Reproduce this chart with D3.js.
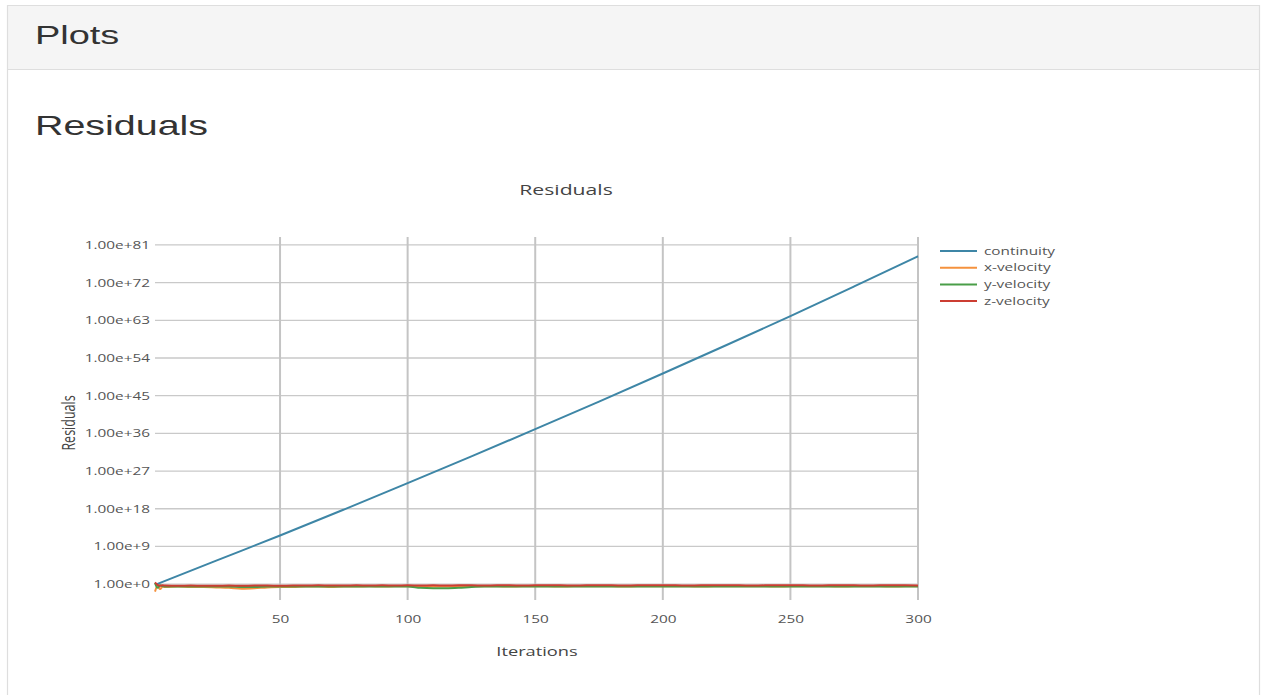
<!DOCTYPE html>
<html>
<head>
<meta charset="utf-8">
<script src="https://cdn.jsdelivr.net/npm/d3@7"></script>
<style>
  html, body { margin: 0; padding: 0; background: #fff; }
  svg { display: block; }
</style>
</head>
<body>
<svg id="page" width="1264" height="695"></svg>
<script>
// ---- data -------------------------------------------------------------
// Residual history, stored as log10 of the residual.
const continuityIters = [1, 25, 50, 75, 100, 125, 150, 175, 200, 225, 250, 275, 300];
const continuityLog10 = [-0.2, 5.6, 11.6, 17.8, 24.1, 30.5, 37.0, 43.6, 50.3, 57.1, 64.0, 71.1, 78.3];

const velocityIters = [1, 2, 3, 4,
  5, 10, 15, 20, 25, 30, 35, 40, 45, 50, 55, 60, 65, 70, 75, 80, 85, 90, 95, 100,
  105, 110, 115, 120, 125, 130, 135, 140, 145, 150, 155, 160, 165, 170, 175, 180, 185, 190, 195, 200,
  205, 210, 215, 220, 225, 230, 235, 240, 245, 250, 255, 260, 265, 270, 275, 280, 285, 290, 295, 300];

const xVelocityLog10 = [-1.8, -0.4, -1.2, -0.6,
  -0.7, -0.6, -0.7, -0.7, -0.8, -0.9, -1.1, -1.0, -0.8, -0.7, -0.7, -0.6, -0.6, -0.7, -0.6, -0.6, -0.5, -0.6, -0.5, -0.5,
  -0.6, -0.6, -0.6, -0.5, -0.5, -0.5, -0.5, -0.6, -0.5, -0.5, -0.5, -0.6, -0.5, -0.5, -0.5, -0.5, -0.6, -0.5, -0.5, -0.5,
  -0.5, -0.5, -0.6, -0.5, -0.5, -0.5, -0.5, -0.5, -0.6, -0.5, -0.5, -0.5, -0.5, -0.6, -0.5, -0.5, -0.5, -0.6, -0.5, -0.5];

const yVelocityLog10 = [0.3, -0.9, -0.3, -0.5,
  -0.6, -0.6, -0.6, -0.6, -0.6, -0.6, -0.7, -0.7, -0.6, -0.6, -0.6, -0.6, -0.6, -0.6, -0.6, -0.6, -0.6, -0.6, -0.6, -0.6,
  -0.9, -1.0, -1.0, -0.9, -0.7, -0.6, -0.6, -0.6, -0.6, -0.6, -0.6, -0.6, -0.6, -0.6, -0.6, -0.6, -0.6, -0.6, -0.6, -0.6,
  -0.6, -0.6, -0.6, -0.6, -0.6, -0.6, -0.6, -0.6, -0.6, -0.6, -0.6, -0.6, -0.6, -0.6, -0.6, -0.6, -0.6, -0.6, -0.6, -0.6];

const zVelocityLog10 = [0.4, -0.2, -0.4, -0.3,
  -0.35, -0.4, -0.35, -0.4, -0.4, -0.35, -0.4, -0.35, -0.35, -0.4, -0.35, -0.35, -0.3, -0.35, -0.35, -0.3, -0.35, -0.3, -0.35, -0.3,
  -0.35, -0.3, -0.35, -0.3, -0.3, -0.35, -0.3, -0.3, -0.35, -0.3, -0.3, -0.3, -0.35, -0.3, -0.3, -0.3, -0.35, -0.3, -0.3, -0.3,
  -0.3, -0.35, -0.3, -0.3, -0.3, -0.3, -0.35, -0.3, -0.3, -0.3, -0.3, -0.35, -0.3, -0.3, -0.3, -0.35, -0.3, -0.3, -0.3, -0.35];

const seriesNames  = ["continuity", "x-velocity", "y-velocity", "z-velocity"];
const seriesColors = ["#3e86a6", "#f5923e", "#4a9e48", "#cc3d32"];

const xTickValues = [50, 100, 150, 200, 250, 300];
const yTickExponents = [0, 9, 18, 27, 36, 45, 54, 63, 72, 81];

// ---- layout -----------------------------------------------------------
const SX = 1.46;                       // horizontal glyph stretch of the page
const plot = { left: 155, right: 918, top: 237, bottom: 600 };
const tickFont = "'Open Sans', sans-serif";
const headFont = "'Liberation Sans', Arial, Helvetica, sans-serif";

const svg = d3.select("#page");

// Panel frame with its grey heading strip
svg.append("rect").attr("x", 7.5).attr("y", 5.5).attr("width", 1252).attr("height", 64)
  .attr("fill", "#f5f5f5");
svg.append("path")
  .attr("d", "M7.5,700 V5.5 H1259.5 V700 M7.5,69.5 H1259.5")
  .attr("fill", "none").attr("stroke", "#dedede").attr("stroke-width", 1.2);

function stretchedText(x, y, str, opt) {
  return svg.append("text")
    .attr("transform", `translate(${x},${y}) scale(${SX},1)` + (opt.rotate ? ` rotate(${opt.rotate})` : ""))
    .attr("text-anchor", opt.anchor || "start")
    .attr("font-family", opt.family)
    .attr("font-size", opt.size)
    .attr("fill", opt.color)
    .attr("dy", opt.dy || 0)
    .text(str);
}

stretchedText(35, 44, "Plots", { family: headFont, size: 26, color: "#333" });
stretchedText(35, 134.5, "Residuals", { family: headFont, size: 27, color: "#333" });

// ---- scales -----------------------------------------------------------
const x = d3.scaleLinear().domain([1, 300]).range([plot.left, plot.right]);
const y = d3.scaleLog().domain([Math.pow(10, -3.8), Math.pow(10, 82.9)]).range([plot.bottom, plot.top]);
const yTickValues = yTickExponents.map(e => Math.pow(10, e));

// Grid
const grid = svg.append("g");
grid.selectAll("line.h").data(yTickValues).join("line")
  .attr("x1", plot.left).attr("x2", plot.right)
  .attr("y1", d => y(d)).attr("y2", d => y(d))
  .attr("stroke", "#c9c9c9").attr("stroke-width", 1.3);
grid.selectAll("line.v").data(xTickValues).join("line")
  .attr("x1", d => x(d)).attr("x2", d => x(d))
  .attr("y1", plot.top).attr("y2", plot.bottom)
  .attr("stroke", "#c4c4c4").attr("stroke-width", 2);

// Axes
const xAxis = d3.axisBottom(x).tickValues(xTickValues).tickSize(0).tickPadding(16).tickFormat(d3.format("d"));
const yAxis = d3.axisLeft(y).tickValues(yTickValues).tickSize(0).tickPadding(5).tickFormat(d3.format(".2e"));

const gx = svg.append("g").attr("transform", `translate(0,${plot.bottom})`).call(xAxis);
const gy = svg.append("g").attr("transform", `translate(${plot.left},0)`).call(yAxis);
[gx, gy].forEach(g => {
  g.select(".domain").remove();
  g.selectAll("text")
    .attr("font-family", tickFont).attr("font-size", 10.5).attr("fill", "#555")
    .attr("x", function () { return (+d3.select(this).attr("x") || 0) / SX; })
    .attr("transform", `scale(${SX},1)`);
});

// Titles
stretchedText(566, 195, "Residuals", { family: tickFont, size: 14.5, color: "#444", anchor: "middle" });
stretchedText(537, 656, "Iterations", { family: tickFont, size: 12.5, color: "#444", anchor: "middle" });
stretchedText(75, 423, "Residuals", { family: tickFont, size: 12.5, color: "#444", anchor: "middle", rotate: -90 });

// ---- series -----------------------------------------------------------
const series = [
  { iters: continuityIters, vals: continuityLog10 },
  { iters: velocityIters, vals: xVelocityLog10 },
  { iters: velocityIters, vals: yVelocityLog10 },
  { iters: velocityIters, vals: zVelocityLog10 }
];

const line = d3.line().x(d => x(d[0])).y(d => y(d[1])).curve(d3.curveMonotoneX);
const lines = svg.append("g");
series.forEach((s, i) => {
  const pts = s.iters.map((it, k) => [it, Math.pow(10, s.vals[k])]);
  lines.append("path").datum(pts)
    .attr("d", line)
    .attr("fill", "none")
    .attr("stroke", seriesColors[i])
    .attr("stroke-width", 2)
    .attr("stroke-linejoin", "round");
});

// ---- legend -----------------------------------------------------------
const legendTop = 251, legendStep = 16.7;
seriesNames.forEach((name, i) => {
  const ly = legendTop + i * legendStep;
  svg.append("line")
    .attr("x1", 940).attr("x2", 977).attr("y1", ly).attr("y2", ly)
    .attr("stroke", seriesColors[i]).attr("stroke-width", 2);
  stretchedText(984, ly, name, { family: tickFont, size: 10.5, color: "#555", dy: "0.35em" });
});
</script>
</body>
</html>
